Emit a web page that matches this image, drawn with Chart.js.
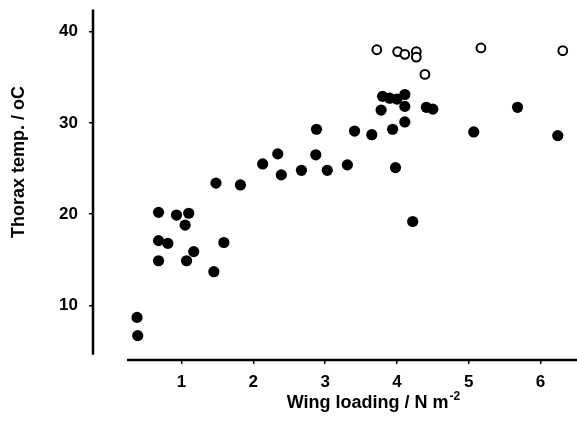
<!DOCTYPE html>
<html>
<head>
<meta charset="utf-8">
<script src="https://cdn.jsdelivr.net/npm/chart.js@4.4.1/dist/chart.umd.min.js"></script>
<style>
  body { margin: 0; background: #fff; }
  #wrap { width: 577px; height: 431px; position: relative; }
</style>
</head>
<body>
<div id="wrap"><canvas id="thoraxChart"></canvas></div>
<script>
// dados
const xTicks = [1, 2, 3, 4, 5, 6];
const yTicks = [10, 20, 30, 40];

// pontos cheios
const filledX = [0.38, 0.39, 0.68, 0.93, 1.10, 1.05, 0.68, 0.81, 1.59, 1.17, 0.68, 1.07, 1.45,
  1.48, 1.82, 2.13, 2.34, 2.39, 2.67, 2.88, 2.87, 3.03, 3.31,
  3.80, 3.90, 4.00, 4.11, 4.11, 3.78, 4.41, 4.50, 3.41, 3.65, 3.94, 4.11, 3.98, 4.22,
  5.07, 5.68, 6.24];
const filledY = [8.7, 6.7, 20.2, 19.9, 20.1, 18.8, 17.1, 16.8, 16.9, 15.9, 14.9, 14.9, 13.7,
  23.4, 23.2, 25.5, 26.6, 24.3, 24.8, 29.3, 26.5, 24.8, 25.4,
  32.9, 32.7, 32.6, 33.1, 31.8, 31.4, 31.7, 31.5, 29.1, 28.7, 29.3, 30.1, 25.1, 19.2,
  29.0, 31.7, 28.6];

// pontos vazios
const openX = [3.72, 4.01, 4.11, 4.27, 4.27, 4.39, 5.17, 6.31];
const openY = [38.0, 37.8, 37.5, 37.8, 37.2, 35.3, 38.2, 37.9];

const toPoints = (xs, ys) => xs.map((x, i) => ({ x: x, y: ys[i] }));

const FONT = '"Liberation Sans", Arial, sans-serif';

// eixos "soltos", como na figura original
const axesPlugin = {
  id: 'looseAxes',
  beforeDatasetsDraw(chart) {
    const { ctx, chartArea, scales } = chart;
    ctx.save();
    ctx.strokeStyle = '#000';
    ctx.lineWidth = 2.5;
    ctx.beginPath();
    ctx.moveTo(chartArea.left, scales.y.getPixelForValue(42.4));
    ctx.lineTo(chartArea.left, scales.y.getPixelForValue(4.6));
    ctx.stroke();
    ctx.beginPath();
    ctx.moveTo(scales.x.getPixelForValue(0.24), chartArea.bottom);
    ctx.lineTo(chart.width, chartArea.bottom);
    ctx.stroke();
    ctx.restore();
  },
  afterDraw(chart) {
    const { ctx } = chart;
    ctx.save();
    ctx.fillStyle = '#000';
    ctx.textBaseline = 'middle';
    // título do eixo x (com expoente)
    const main = 'Wing loading / N m';
    ctx.font = 'bold 18px ' + FONT;
    const w1 = ctx.measureText(main).width;
    ctx.font = 'bold 12px ' + FONT;
    const w2 = ctx.measureText('-2').width;
    const x0 = 373 - (w1 + w2) / 2;
    ctx.textAlign = 'left';
    ctx.font = 'bold 18px ' + FONT;
    ctx.fillText(main, x0, 403);
    ctx.font = 'bold 12px ' + FONT;
    ctx.fillText('-2', x0 + w1 + 1, 397);
    // título do eixo y
    ctx.translate(19, 162);
    ctx.rotate(-Math.PI / 2);
    ctx.textAlign = 'center';
    ctx.font = 'bold 18px ' + FONT;
    ctx.fillText('Thorax temp. / oC', 0, 0);
    ctx.restore();
  }
};

const tickFont = { family: FONT, size: 17, weight: 'bold' };

const ctx = document.getElementById('thoraxChart').getContext('2d');
const thoraxChart = new Chart(ctx, {
  type: 'scatter',
  data: {
    datasets: [
      {
        label: 'filled',
        data: toPoints(filledX, filledY),
        backgroundColor: '#000',
        borderWidth: 0,
        pointRadius: 5.6
      },
      {
        label: 'open',
        data: toPoints(openX, openY),
        backgroundColor: '#fff',
        borderColor: '#000',
        borderWidth: 2,
        pointRadius: 4.4
      }
    ]
  },
  options: {
    responsive: true,
    maintainAspectRatio: false,
    animation: false,
    layout: { padding: { top: 9, right: 0, left: 0, bottom: 0 } },
    plugins: {
      legend: { display: false },
      tooltip: { enabled: false }
    },
    scales: {
      x: {
        type: 'linear',
        min: -0.233,
        max: 6.419,
        afterFit(scale) { scale.height = 71; },
        afterBuildTicks(scale) { scale.ticks = xTicks.map(v => ({ value: v })); },
        border: { display: false },
        grid: { display: true, drawOnChartArea: false, drawTicks: true, tickLength: 4, color: '#000', lineWidth: 1.5 },
        ticks: { color: '#000', font: tickFont, padding: 8, maxRotation: 0 }
      },
      y: {
        type: 'linear',
        min: 4.033,
        max: 42.464,
        afterFit(scale) { scale.width = 93; scale.paddingTop = 0; scale.paddingBottom = 0; },
        afterBuildTicks(scale) { scale.ticks = yTicks.map(v => ({ value: v })); },
        border: { display: false },
        grid: { display: true, drawOnChartArea: false, drawTicks: true, tickLength: 4, color: '#000', lineWidth: 1.5 },
        ticks: { color: '#000', font: tickFont, padding: 11 }
      }
    }
  },
  plugins: [axesPlugin]
});
</script>
</body>
</html>
